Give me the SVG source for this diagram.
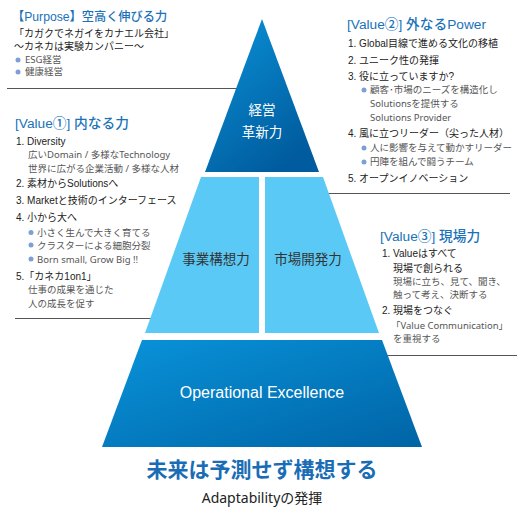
<svg xmlns="http://www.w3.org/2000/svg" width="530" height="510" viewBox="0 0 530 510">
<defs>
<linearGradient id="gTop" x1="0" y1="0" x2="0.6" y2="1">
<stop offset="0" stop-color="#0b93d9"/>
<stop offset="1" stop-color="#005c9e"/>
</linearGradient>
<linearGradient id="gBot" x1="0" y1="0" x2="1" y2="1">
<stop offset="0" stop-color="#0993da"/>
<stop offset="1" stop-color="#0064a6"/>
</linearGradient>
<style>
text{font-family:"Liberation Sans","Noto Sans CJK JP",sans-serif;}
.h{font-size:13.7px;fill:#1a72b9;font-weight:500;}
.b{font-size:10px;fill:#222;}
.s{font-size:9.5px;fill:#555;font-family:"Noto Sans","Noto Sans CJK JP",sans-serif;}
.w{fill:#fff;text-anchor:middle;}
.m{fill:#333;font-size:13.5px;text-anchor:middle;}
.dot{fill:#7d9fd5;}
.sep{stroke:#555;stroke-width:1;fill:none;}
</style>
</defs>

<g id="connectors">
<line class="sep" x1="7" y1="88.5" x2="251" y2="88.5"/>
<line class="sep" x1="15" y1="318.5" x2="196" y2="318.5"/>
<line class="sep" x1="299" y1="193.5" x2="510" y2="193.5"/>
<line class="sep" x1="363" y1="355.5" x2="517" y2="355.5"/>
</g>

<g id="node-top">
<polygon points="262,19 319,172 205,172" fill="url(#gTop)"/>
<text class="w" x="262" y="115" font-size="13.5">経営</text>
<text class="w" x="262" y="137" font-size="13.5">革新力</text>
</g>

<g id="node-left">
<polygon points="201,177 259,177 259,333 145,333" fill="#5bc9f5"/>
<text class="m" x="216" y="264">事業構想力</text>
</g>

<g id="node-right">
<polygon points="265,177 323,177 379,333 265,333" fill="#5bc9f5"/>
<text class="m" x="308" y="264">市場開発力</text>
</g>

<g id="node-bottom">
<polygon points="142,340 382,340 422,447 102,447" fill="url(#gBot)"/>
<text class="w" x="262" y="398" font-size="16">Operational Excellence</text>
</g>

<g id="purpose">
<text class="h" x="12" y="21" style="font-size:12.2px">【Purpose】空高く伸びる力</text>
<text class="b" x="14" y="37">「カガクでネガイをカナエル会社」</text>
<text class="b" x="14" y="50">～カネカは実験カンパニー～</text>
<circle class="dot" cx="18" cy="60" r="2.5"/>
<text class="s" x="25" y="63">ESG経営</text>
<circle class="dot" cx="18" cy="72" r="2.5"/>
<text class="s" x="25" y="75">健康経営</text>
</g>

<g id="value1">
<text class="h" x="15" y="128">[Value①] 内なる力</text>
<text class="b" x="16" y="145">1. Diversity</text>
<text class="s" x="28" y="158">広いDomain / 多様なTechnology</text>
<text class="s" x="28" y="172">世界に広がる企業活動 / 多様な人材</text>
<text class="b" x="16" y="187">2. 素材からSolutionsへ</text>
<text class="b" x="16" y="204">3. Marketと技術のインターフェース</text>
<text class="b" x="16" y="221">4. 小から大へ</text>
<circle class="dot" cx="31" cy="232.5" r="2.5"/>
<text class="s" x="37" y="236">小さく生んで大きく育てる</text>
<circle class="dot" cx="31" cy="245" r="2.5"/>
<text class="s" x="37" y="248.5">クラスターによる細胞分裂</text>
<circle class="dot" cx="31" cy="259" r="2.5"/>
<text class="s" x="37" y="262.5">Born small, Grow Big !!</text>
<text class="b" x="16" y="280">5.「カネカ1on1」</text>
<text class="s" x="28" y="293">仕事の成果を通じた</text>
<text class="s" x="28" y="307">人の成長を促す</text>
</g>

<g id="value2">
<text class="h" x="347" y="29">[Value②] 外なるPower</text>
<text class="b" x="348" y="47">1. Global目線で進める文化の移植</text>
<text class="b" x="348" y="64">2. ユニーク性の発揮</text>
<text class="b" x="348" y="80">3. 役に立っていますか?</text>
<circle class="dot" cx="364" cy="90" r="2.5"/>
<text class="s" x="370" y="93">顧客･市場のニーズを構造化し</text>
<text class="s" x="370" y="107">Solutionsを提供する</text>
<text class="s" x="370" y="121">Solutions Provider</text>
<text class="b" x="348" y="137">4. 風に立つリーダー（尖った人材）</text>
<circle class="dot" cx="364" cy="148" r="2.5"/>
<text class="s" x="370" y="151">人に影響を与えて動かすリーダー</text>
<circle class="dot" cx="364" cy="162" r="2.5"/>
<text class="s" x="370" y="165">円陣を組んで闘うチーム</text>
<text class="b" x="348" y="182">5. オープンイノベーション</text>
</g>

<g id="value3">
<text class="h" x="380" y="241">[Value③] 現場力</text>
<text class="b" x="382" y="257">1. Valueはすべて</text>
<text class="b" x="393" y="272">現場で創られる</text>
<text class="s" x="393" y="285">現場に立ち、見て、聞き、</text>
<text class="s" x="393" y="298">触って考え、決断する</text>
<text class="b" x="382" y="314">2. 現場をつなぐ</text>
<text class="s" x="391" y="329">「Value Communication」</text>
<text class="s" x="393" y="342">を重視する</text>
</g>

<g id="footer">
<text x="262" y="477" font-size="21" font-weight="bold" fill="#1a6db5" text-anchor="middle">未来は予測せず構想する</text>
<text x="262" y="503" font-size="14" fill="#222" text-anchor="middle" style="font-family:'Noto Sans','Noto Sans CJK JP',sans-serif">Adaptabilityの発揮</text>
</g>
</svg>
